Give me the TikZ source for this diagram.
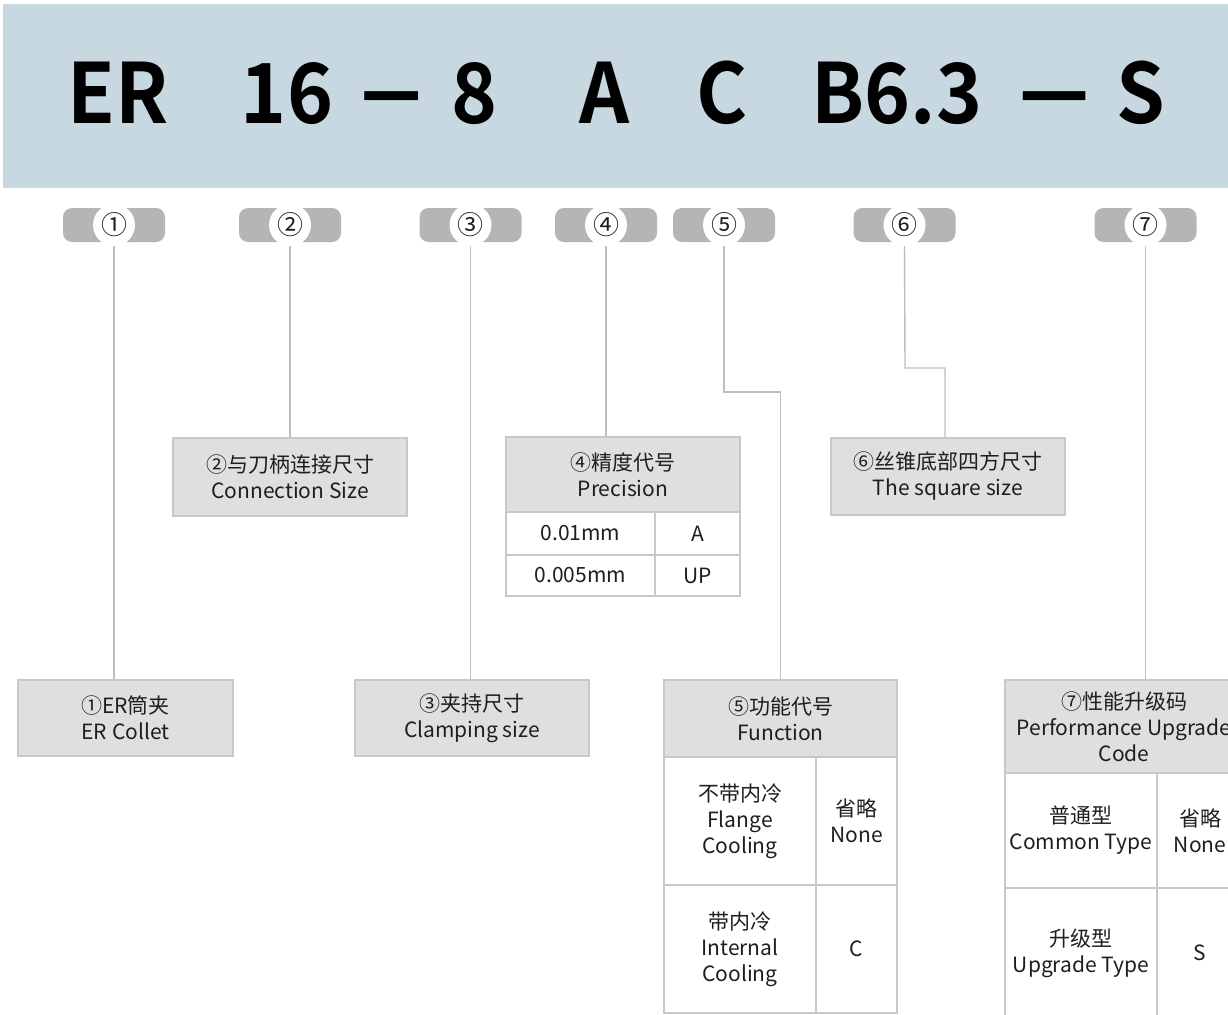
\documentclass[tikz,border=0pt]{standalone}
\usepackage{fontspec}
\usepackage{graphicx}
\setmainfont{Noto Sans CJK SC}
\newfontfamily\titlefont{Noto Sans CJK SC Bold}
\definecolor{hdr}{RGB}{200,216,224}
\definecolor{badgec}{RGB}{181,181,181}
\definecolor{boxfill}{RGB}{222,223,223}
\definecolor{boxline}{RGB}{200,200,200}
\definecolor{connc}{RGB}{190,190,190}
\definecolor{txt}{RGB}{30,30,30}
\begin{document}
\begin{tikzpicture}[x=1pt,y=-1pt,
 badgebox/.style={fill=badgec, rounded corners=9pt, minimum width=102pt, minimum height=34pt, inner sep=0pt},
 numdisc/.style={circle, fill=white, minimum size=42pt, inner sep=0pt, font=\fontsize{26}{26}\selectfont, text=txt},
 graybox/.style={draw=boxline, line width=1.3pt, fill=boxfill, inner sep=0pt, align=center, text=txt, font=\fontsize{21}{26}\selectfont},
 cellbox/.style={draw=boxline, line width=1.3pt, fill=white, inner sep=0pt, align=center, text=txt, font=\fontsize{21}{26}\selectfont},
 connline/.style={draw=connc, line width=1.4pt},
 big/.style={font=\fontsize{83}{83}\titlefont, text=black, inner sep=0pt, anchor=base}
]
\useasboundingbox (0,0) rectangle (1228,1014);
\clip (0,0) rectangle (1228,1014);
% header band
\fill[hdr] (3,4) rectangle (1228,188);
\node[big] (tER) at (118,124) {\scalebox{0.94}[1]{ER}};
\node[big] (t16) at (287,124) {\scalebox{0.94}[1]{16}};
\node[big] (td1) at (392,124) {\scalebox{0.8}[1.15]{—}};
\node[big] (t8) at (475,124) {\scalebox{0.94}[1]{8}};
\node[big] (tA) at (604,124) {\scalebox{0.94}[1]{A}};
\node[big] (tC) at (722,124) {\scalebox{0.94}[1]{C}};
\node[big] (tB) at (897,124) {\scalebox{0.94}[1]{B6.3}};
\node[big] (td2) at (1055,124) {\scalebox{0.93}[1.15]{—}};
\node[big] (tS) at (1141,124) {\scalebox{0.94}[1]{S}};
% badges
\node[badgebox] (bd1) at (114,225) {};
\node[badgebox] (bd2) at (290,225) {};
\node[badgebox] (bd3) at (470.5,225) {};
\node[badgebox] (bd4) at (606,225) {};
\node[badgebox] (bd5) at (724,225) {};
\node[badgebox] (bd6) at (904.5,225) {};
\node[badgebox] (bd7) at (1145.5,225) {};
% boxes
\node[graybox, minimum width=215pt, minimum height=76pt] (b1) at (125.5,718) {①ER筒夹\\ER Collet};
\node[graybox, minimum width=234pt, minimum height=78pt] (b2) at (290,477) {②与刀柄连接尺寸\\Connection Size};
\node[graybox, minimum width=234pt, minimum height=76pt] (b3) at (472,718) {③夹持尺寸\\Clamping size};
% box 4
\node[graybox, minimum width=234pt, minimum height=75pt] (b4) at (623,474.5) {④精度代号\\Precision};
\node[cellbox, minimum width=149pt, minimum height=43pt] (b4a) at (580.5,533.5) {0.01mm};
\node[cellbox, minimum width=85pt, minimum height=43pt] (b4b) at (697.5,533.5) {A};
\node[cellbox, minimum width=149pt, minimum height=41pt] (b4c) at (580.5,575.5) {0.005mm};
\node[cellbox, minimum width=85pt, minimum height=41pt] (b4d) at (697.5,575.5) {UP};
% box 5
\node[graybox, minimum width=233pt, minimum height=77pt] (b5) at (780.5,718.5) {⑤功能代号\\Function};
\node[cellbox, minimum width=152pt, minimum height=128pt] (b5a) at (740,821) {不带内冷\\Flange\\Cooling};
\node[cellbox, minimum width=81pt, minimum height=128pt] (b5b) at (856.5,821) {省略\\None};
\node[cellbox, minimum width=152pt, minimum height=128pt] (b5c) at (740,949) {带内冷\\Internal\\Cooling};
\node[cellbox, minimum width=81pt, minimum height=128pt] (b5d) at (856.5,949) {C};
% box 6
\node[graybox, minimum width=234pt, minimum height=77pt] (b6) at (948,476.5) {⑥丝锥底部四方尺寸\\The square size};
% box 7
\node[graybox, minimum width=238pt, minimum height=93pt] (b7) at (1124,726.5) {⑦性能升级码\\Performance Upgrade\\Code};
\node[cellbox, minimum width=152pt, minimum height=115pt] (b7a) at (1081,830.5) {普通型\\Common Type};
\node[cellbox, minimum width=86pt, minimum height=115pt] (b7b) at (1200,830.5) {省略\\None};
\node[cellbox, minimum width=152pt, minimum height=130pt] (b7c) at (1081,953) {升级型\\Upgrade Type};
\node[cellbox, minimum width=86pt, minimum height=130pt] (b7d) at (1200,953) {S};
% connectors
\coordinate (k5) at (724,392);
\coordinate (k6) at (905,368);
\coordinate (e6) at (945,438);
\draw[connline] (bd1.south) -- (bd1.south |- b1.north);
\draw[connline] (bd2.south) -- (b2.north);
\draw[connline] (bd3.south) -- (bd3.south |- b3.north);
\draw[connline] (bd4.south) -- (bd4.south |- b4.north);
\draw[connline] (bd5.south) -- (k5) -| (b5.north);
\draw[connline] (bd6.south) -- (k6) -| (e6);
\draw[connline] (bd7.south) -- (bd7.south |- b7.north);
% number discs
\node[numdisc] (n1) at (bd1) {①};
\node[numdisc] (n2) at (bd2) {②};
\node[numdisc] (n3) at (bd3) {③};
\node[numdisc] (n4) at (bd4) {④};
\node[numdisc] (n5) at (bd5) {⑤};
\node[numdisc] (n6) at (bd6) {⑥};
\node[numdisc] (n7) at (bd7) {⑦};
\end{tikzpicture}
\end{document}
